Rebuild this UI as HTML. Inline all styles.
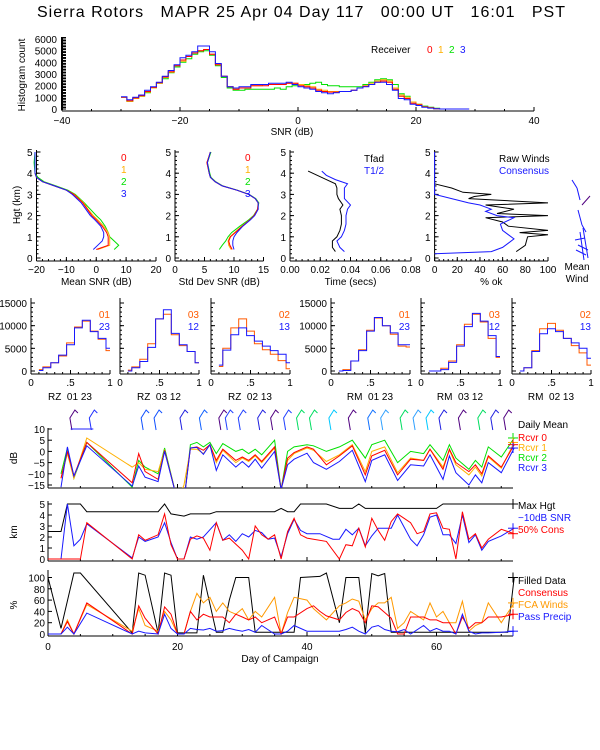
<!DOCTYPE html>
<html><head><meta charset="utf-8">
<style>
html,body{margin:0;padding:0;background:#fff;}
svg{display:block;font-family:"Liberation Sans",sans-serif;}
text{font-size:10px;fill:#000;white-space:pre;}
</style></head>
<body>
<svg id="c" width="600" height="750" viewBox="0 0 600 750">
<text x="37" y="17" textLength="528" lengthAdjust="spacing" style="font-size:16px" xml:space="preserve">Sierra Rotors   MAPR 25 Apr 04 Day 117   00:00 UT   16:01   PST</text>
</svg>
<script>
// ---------- DATA ----------
const snrBinStart = -30;
const snrR0 = [1000,700,950,1150,1500,1850,2250,2750,3200,3700,4200,4500,4800,5000,5100,4700,3800,2800,1900,1700,1800,1800,2000,2000,2000,2100,2100,2100,2200,2200,2000,1900,1800,1600,1500,1450,1450,1500,1500,1600,1800,1950,2100,2300,2400,2300,1700,1100,900,500,350,180,100,30,0,0,0,0,0];
const snrR1 = [1000,650,900,1100,1450,1800,2200,2700,3150,3700,4100,4500,4800,5000,5100,4700,3800,2800,1900,1700,1800,1800,2000,2000,2100,2100,2100,2100,2200,2200,2100,2000,1900,1700,1600,1500,1500,1500,1500,1600,1800,2000,2200,2400,2500,2400,1800,1200,1000,600,400,200,100,30,0,0,0,0,0];
const snrR2 = [1000,650,900,1100,1400,1800,2200,2600,3100,3600,4000,4300,4700,4900,5000,4600,3700,2700,1800,1600,1600,1700,1700,1700,1700,1700,1800,1700,1900,2000,2100,2100,2200,2300,2100,2000,2000,1900,1900,1900,1900,2100,2300,2500,2600,2500,2100,1300,1100,600,400,250,150,60,0,0,0,0,0];
const snrR3 = [1050,800,1000,1200,1600,1900,2300,2800,3300,3800,4400,4600,4900,5400,5400,4900,3900,2800,1900,1800,1900,1900,2100,2100,2100,2200,2200,2200,2300,2100,1900,1800,1700,1500,1400,1300,1400,1500,1500,1600,1800,1900,2100,2300,2300,2100,1600,900,800,400,300,150,80,20,0,0,0,0,0];

const profHgt = [0.4,0.6,0.8,1.0,1.2,1.5,1.8,2.0,2.3,2.6,2.8,3.0,3.2,3.4,3.6,3.8,4.0,4.5,5.0];
const meanSnr0 = [0,4,4,4,3.5,2,0,-1.5,-3,-4.5,-6,-7.5,-10,-14,-18,-20,-20.5,-20.5,-20.5];
const meanSnr1 = [0.5,4.5,4.5,4.5,4,2.5,0.5,-1,-2.8,-4.2,-5.8,-7.3,-10,-14,-18,-20,-20.5,-20.5,-20.5];
const meanSnr2 = [6,7.5,6,4.5,4,3,1.5,0,-2,-4,-5.5,-7,-9.5,-13.5,-17.5,-19.5,-20.5,-20.8,-20.5];
const meanSnr3 = [-1,0.5,2,2.5,2.5,1.5,-0.5,-2,-3.5,-5,-6.5,-8,-10,-14,-18,-20,-20.5,-20.5,-20.5];
const sdSnr0 = [9.7,9.3,9.1,9.4,10.2,11.4,12.7,13.4,14,14.1,13.6,12.5,10.5,8,6.8,6,5.8,5.4,6];
const sdSnr1 = [9.5,9.1,9.0,9.3,10.1,11.3,12.7,13.4,14,14.1,13.6,12.5,10.5,8,6.8,6,5.8,5.4,6];
const sdSnr2 = [7.5,8,8.6,9,9.6,11,12.5,13.3,14,14.2,13.7,12.6,10.6,8.1,6.9,6.1,5.9,5.5,6.1];
const sdSnr3 = [10,9.8,9.8,10,10.5,11.5,12.8,13.5,14.1,14.1,13.6,12.5,10.5,8,6.8,6,5.8,5.5,6];

const timeHgt = [0.3,0.5,0.8,1.0,1.3,1.6,2.0,2.3,2.5,2.8,3.0,3.3,3.5,3.7,3.9,4.1];
const tFad = [0.030,0.028,0.028,0.031,0.033,0.034,0.034,0.033,0.035,0.032,0.031,0.031,0.030,0.024,0.018,0.012];
const tHalf = [0.036,0.033,0.031,0.034,0.036,0.037,0.037,0.038,0.040,0.036,0.036,0.036,0.038,0.030,0.024,0.021];

const rawHgt = [0.3,0.6,1.0,1.1,1.2,1.3,1.5,1.7,1.9,2.0,2.1,2.3,2.5,2.6,2.8,2.9,3.0,3.1,3.3,3.5];
const rawOk = [72,80,82,100,75,100,65,60,45,100,55,70,45,100,30,35,50,25,15,0];
const consHgt = [0.2,0.3,0.5,0.7,0.9,1.1,1.3,1.6,1.9,2.0,2.2,2.3,2.5,2.6,2.8,3.0,3.2,3.6,4.0,5.0];
const consOk = [0,50,60,65,70,65,60,58,70,55,45,50,40,30,15,0,0,0,0,0];

const corrEdges = [0.1,0.15,0.25,0.35,0.45,0.55,0.65,0.75,0.85,0.95,1.0];
const corrLabels = ["RZ  01 23","RZ  03 12","RZ  02 13","RM  01 23","RM  03 12","RM  02 13"];
const corrTagA = ["01","03","02","01","03","02"];
const corrTagB = ["23","12","13","23","12","13"];
const corrA = [
 [300,900,1800,3300,6200,9700,11000,8800,7000,4500],
 [200,900,2600,6000,11500,12500,8000,5600,4300,1800],
 [1000,5000,9500,11500,8800,6000,4700,3700,2300,500],
 [0,300,2200,4700,9000,11700,10000,8100,5500,5300],
 [0,0,600,2200,5800,10300,12500,10800,7200,3000],
 [0,700,4500,9300,10500,9000,7200,5600,4000,1300]];
const corrB = [
 [100,700,1800,3500,5800,9500,11200,8700,7200,5000],
 [0,700,2100,5200,11500,13500,8300,5800,4300,1800],
 [1300,4600,8000,9500,7800,6600,5500,4500,3700,1800],
 [0,100,2200,4500,8800,11800,10000,8400,5800,5800],
 [0,0,300,1900,5500,9800,12700,11000,7800,3200],
 [0,700,4300,8200,9300,8700,7200,6200,5000,2800]];

const dayA = [2,3,4,6,13,14,15,17,18,20,21,22,23,24,25,26,27,29,30,31,32,33,35,36,37,38,40,41,43,45,47,49,50,52,54,56,58,59,61,62,63,65,66,67,68,70,72];
const rcvr0 = [-12,0,-11,4,-14,-1,-9,-12.5,0.5,-22,-22,1.5,2,0.5,3,-4,1,-4,-2.5,-4,-1.5,-4.5,2,-17,-3,-0.5,2,1,-6,-2,2.5,-10.5,-2,0.5,-10.5,-3.5,-4,1,-8,1,-5,-9,-6,-10,-2,-7,3];
const rcvr1 = [-12,-1,-12,6,-7,-5,-8,-9,0.5,-22,-15,1,1,-1,3,-5,0.5,-5,-3,-4.5,-2,-5,1.5,-17,-4,-1,1.5,0.5,-4.5,-1.5,3,-9,0,2,-9.5,-3,-4,1,-7,0.5,-6,-10.5,-7,-11,-2.5,-7.5,4];
const rcvr2 = [-10,1.5,-12,4,-16,-4,-7,-10,1.5,-22,-22,3,4,2,4,-1,3.5,0,1,-1,1,-1.5,5,-17,0,2,3,2.5,0,2,5,-3,3,5,-5,0,-1,3,-4,3,-3,-8,-4,-7,2,-2.5,6];
const rcvr3 = [-16,2,-11,2.5,-15.5,-6.5,-11.5,-13.5,0,-22,-22,1.5,1.8,-1.3,3,-8.5,-1.5,-7,-4.5,-7,-3.5,-7.5,0,-17,-6,-3.5,-0.8,-5,-8,-4.5,0.5,-13.5,-4,-1.5,-13,-6,-6.5,-1.5,-12.5,-2,-9.5,-15,-10.5,-14,-5,-9.5,1.5];

const maxHgtDay = [0,2,2,3,5,6,17,18,19,21,22,25,26,35,36,37,38,39,43,45,47,48,49,60,61,72];
const maxHgtVal = [2.5,2.5,2.5,5,5,4.3,4.3,5,4.1,3.9,4.1,4.1,4.3,4.3,4.6,4.3,4.3,5,5,4.6,4.6,5,4.6,4.6,5,5];
const snr10Day = [0,2,3,4,5,6,13,14,15,17,18,19,20,21,22,23,24,26,27,28,29,30,31,32,33,34,35,36,37,38,39,40,42,44,45,46,47,48,49,50,51,53,54,56,57,58,59,60,61,62,63,64,65,66,67,68,70,72];
const snr10Val = [0,0,5,1.2,1.8,3.2,0.1,2,1.6,2,3.3,1.5,0,0,2,1.8,2,3.3,1.7,2.2,1.6,2.3,2,2.6,2.4,1.8,1.9,0.2,2.3,3.6,2.6,2.3,2.3,1.8,1.8,2.7,2.2,2.8,1.2,2.1,2.8,2.8,4,1.8,1.2,2.2,3.8,4,2.2,2.2,1.4,4,1.5,2.2,0.8,1.6,2.1,2.8];
const cons50Day = [0,5,6,13,14,15,17,18,19,20,21,22,23,24,25,26,27,28,30,31,32,33,34,35,36,37,38,39,40,41,43,45,46,47,48,49,50,51,52,53,54,55,56,57,58,59,60,61,62,63,64,65,66,67,68,70,72];
const cons50Val = [0,0,3.3,0,2.2,1.7,2.2,4.1,1.3,0,0,1.8,2.1,1.9,0.8,3.3,1.7,1.9,0.8,0,3,2.2,1.8,2.2,0,2.5,3.7,2.2,1.9,1.8,1.6,0,1.3,1.2,2.8,1.1,3.7,2.6,1.7,3.4,4.1,3.7,3.3,2.3,2.5,4.1,4.2,2.8,2.7,0,4.3,1.8,2.3,1,1.8,2.7,2.3];

const filledDay = [0,2,4,5,13,14,15,17,18,19,20,23,24,26,27,28,29,31,32,38,39,42,43,45,46,48,49,50,51,52,53,71,72];
const filledVal = [100,10,108,108,2,108,104,2,108,104,2,2,104,3,3,60,100,100,3,3,100,102,108,20,100,100,2,107,103,107,3,3,100];
const pctDay = [0,2,3,4,6,13,14,15,17,18,19,20,21,22,23,24,25,26,27,28,29,30,31,32,33,35,36,37,38,40,41,42,43,45,46,47,48,49,50,51,52,53,54,55,56,58,59,60,61,62,63,64,65,66,67,68,70,72];
const consPct = [0,0,22,0,55,0,50,28,0,48,35,0,0,40,25,35,30,30,30,20,35,30,25,30,20,30,0,30,30,45,50,40,32,25,38,45,40,20,50,48,38,28,0,0,30,30,25,25,20,20,0,30,10,20,20,30,30,35];
const fcaPct = [0,0,25,0,52,5,45,15,5,40,25,0,0,40,72,55,65,40,55,40,35,45,25,40,30,65,0,38,65,60,45,35,25,50,55,62,58,25,45,55,55,65,10,20,40,25,55,30,40,20,20,58,5,15,20,55,20,55];
const precipPct = [0,0,12,0,37,0,5,2,0,35,10,0,0,10,8,7,10,5,6,10,7,5,8,3,15,0,0,5,15,5,5,5,5,5,8,12,5,0,12,15,8,5,4,8,0,15,5,10,5,5,0,35,5,0,2,2,3,5];

const barbDay = [4,7,15,17,21,24,27,28,30,33,35,37,39,41,44,47,50,52,55,57,59,61,64,67,69,71];
const barbColor = ["#500080","#2030ff","#1050ff","#1050ff","#2020e0","#1060ff","#500080","#2040ff","#2040ff","#2020e0","#500080","#2040ff","#00dd60","#00dd60","#00c8ff","#500080","#1070ff","#30a0ff","#00dd60","#30a0ff","#00c8ff","#2020e0","#500080","#00dd60","#2020e0","#500080"];

// ---------- DRAW ----------
const NS = "http://www.w3.org/2000/svg";
const svg = document.getElementById('c');
function el(tag, attrs, parent) {
  const e = document.createElementNS(NS, tag);
  for (const k in attrs) e.setAttribute(k, attrs[k]);
  (parent || svg).appendChild(e);
  return e;
}
function txt(x, y, s, opt, name) {
  const t = el('text', {x: x, y: y});
  t.textContent = s;
  if (opt) { if (opt.anchor) t.setAttribute('text-anchor', opt.anchor); if (opt.fill) t.setAttribute('style', 'fill:' + opt.fill + (opt.size ? ';font-size:' + opt.size + 'px' : '')); else if (opt.size) t.setAttribute('style','font-size:'+opt.size+'px'); if (opt.rot) t.setAttribute('transform', 'rotate(-90 ' + x + ' ' + y + ')'); }
  
  
  return t;
}
function ln(x1, y1, x2, y2, c, name, w) {
  const l = el('line', {x1: x1, y1: y1, x2: x2, y2: y2, stroke: c || '#000', 'stroke-width': w || 1});
  
  
  return l;
}
function poly(pts, c, name, clip) {
  const p = el('polyline', {points: pts.map(p => p[0].toFixed(1) + ',' + p[1].toFixed(1)).join(' '), fill: 'none', stroke: c, 'stroke-width': 1});
  if (clip) p.setAttribute('clip-path', 'url(#' + clip + ')');
  
  
  return p;
}
function lin(d0, d1, p0, p1) { return v => p0 + (v - d0) * (p1 - p0) / (d1 - d0); }
function clipRect(id, x, y, w, h) {
  const cp = el('clipPath', {id: id});
  el('rect', {x: x, y: y, width: w, height: h}, cp);
}

// ---- Top histogram ----
(function () {
  const X = lin(-40, 40, 62, 534), Y = lin(0, 6000, 109, 39);
  ln(62, 111, 534, 111, '#000', 'hist-x-axis');
  ln(62, 37, 62, 111, '#000', 'hist-y-axis');
  el('rect', {x: 61, y: 37, width: 5, height: 73, fill: '#000'});
  for (let v = 0; v <= 6000; v += 250) { ln(63, Y(v), 66, Y(v), '#fff', 'hist-y-minor'); }
  for (let v = 0; v <= 6000; v += 1000) txt(57, Y(v) + 4, String(v), {anchor: 'end'}, 'hist-y-tick');
  [-40, -20, 0, 20, 40].forEach(v => { ln(X(v), 111, X(v), 107, '#000', 'hist-x-tick'); txt(X(v), 124, (v < 0 ? '\u2212' + (-v) : v), {anchor: 'middle'}, 'hist-x-tick-label'); });
  for (let v = -40; v <= 40; v += 5) ln(X(v), 111, X(v), 109, '#000', 'hist-x-minor');
  txt(292, 135, 'SNR (dB)', {anchor: 'middle'}, 'hist-x-title');
  txt(25, 75, 'Histogram count', {anchor: 'middle', rot: 1}, 'hist-y-title');
  const series = [[snrR2, '#00e000', 'hist-rcvr2'], [snrR1, '#ffb000', 'hist-rcvr1'], [snrR0, '#ff0000', 'hist-rcvr0'], [snrR3, '#1818ff', 'hist-rcvr3']];
  series.forEach(s => {
    const pts = [];
    s[0].forEach((v, i) => { const b = snrBinStart + i; pts.push([X(b), Y(v)]); pts.push([X(b + 1), Y(v)]); });
    poly(pts, s[1], s[2]);
  });
  txt(371, 53, 'Receiver', {}, 'legend-receiver');
  txt(427, 53, '0', {fill: '#ff0000'}, 'legend-entry-0');
  txt(438, 53, '1', {fill: '#ffb000'}, 'legend-entry-1');
  txt(449, 53, '2', {fill: '#00e000'}, 'legend-entry-2');
  txt(460, 53, '3', {fill: '#1818ff'}, 'legend-entry-3');
})();

// ---- Profile panels ----
const HY = lin(0, 5, 258, 152);
function profAxes(x0, x1, ticks, fmt, title, name) {
  ln(x0, 150, x0, 261, '#000', name + '-y-axis');
  ln(x0, 261, x1, 261, '#000', name + '-x-axis');
  for (let h = 0; h <= 5; h++) { ln(x0, HY(h), x0 + 4, HY(h), '#000', name + '-y-tick'); txt(x0 - 4, HY(h) + 4, String(h), {anchor: 'end'}, name + '-y-tick-label'); }
  for (let h = 0; h <= 5; h += 0.2) ln(x0, HY(h), x0 + 2, HY(h), '#000', name + '-y-minor');
  const X = lin(ticks[0], ticks[ticks.length - 1], x0, x1);
  ticks.forEach(t => { ln(X(t), 261, X(t), 257, '#000', name + '-x-tick'); txt(X(t), 273, fmt(t), {anchor: 'middle'}, name + '-x-tick-label'); });
  const st = (ticks[1] - ticks[0]) / 5;
  for (let t = ticks[0]; t <= ticks[ticks.length - 1] + 1e-9; t += st) ln(X(t), 261, X(t), 259, '#000', name + '-x-minor');
  txt((x0 + x1) / 2, 285, title, {anchor: 'middle'}, name + '-x-title');
  return X;
}
const neg = t => (t < 0 ? '\u2212' + (-t) : String(t));
txt(20, 205, 'Hgt (km)', {anchor: 'middle', rot: 1}, 'hgt-axis-title');
(function () {
  const X = profAxes(36.5, 156, [-20, -10, 0, 10, 20], neg, 'Mean SNR (dB)', 'mean-snr');
  [[meanSnr2, '#00e000', 'mean-snr-2'], [meanSnr1, '#ffb000', 'mean-snr-1'], [meanSnr0, '#ff0000', 'mean-snr-0'], [meanSnr3, '#1818ff', 'mean-snr-3']].forEach(s => poly(profHgt.map((h, i) => [X(s[0][i]), HY(h)]), s[1], s[2]));
  ['0', '1', '2', '3'].forEach((k, i) => txt(121, 161 + i * 12, k, {fill: ['#ff0000', '#ffb000', '#00e000', '#1818ff'][i]}, 'mean-snr-legend-' + k));
})();
(function () {
  const X = profAxes(175, 263.5, [0, 5, 10, 15], String, 'Std Dev SNR (dB)', 'sd-snr');
  [[sdSnr2, '#00e000', 'sd-snr-2'], [sdSnr1, '#ffb000', 'sd-snr-1'], [sdSnr0, '#ff0000', 'sd-snr-0'], [sdSnr3, '#1818ff', 'sd-snr-3']].forEach(s => poly(profHgt.map((h, i) => [X(s[0][i]), HY(h)]), s[1], s[2]));
  ['0', '1', '2', '3'].forEach((k, i) => txt(245, 161 + i * 12, k, {fill: ['#ff0000', '#ffb000', '#00e000', '#1818ff'][i]}, 'sd-snr-legend-' + k));
})();
(function () {
  const X = profAxes(290, 411, [0, 0.02, 0.04, 0.06, 0.08], t => t.toFixed(2), 'Time (secs)', 'time');
  poly(timeHgt.map((h, i) => [X(tFad[i]), HY(h)]), '#000', 'tfad-line');
  poly(timeHgt.map((h, i) => [X(tHalf[i]), HY(h)]), '#1818ff', 't-half-line');
  txt(364, 162, 'Tfad', {}, 'tfad-legend');
  txt(364, 174, 'T1/2', {fill: '#1818ff'}, 't-half-legend');
})();
(function () {
  const X = profAxes(434.6, 548, [0, 20, 40, 60, 80, 100], String, '% ok', 'pct-ok');
  poly(rawHgt.map((h, i) => [X(rawOk[i]), HY(h)]), '#000', 'raw-winds-line');
  poly(consHgt.map((h, i) => [X(consOk[i]), HY(h)]), '#1818ff', 'consensus-ok-line');
  txt(499, 162, 'Raw Winds', {}, 'raw-winds-legend');
  txt(499, 174, 'Consensus', {fill: '#1818ff'}, 'consensus-legend');
  const mw = [[572,180,577,188,'#1818ff'],[577,188,580,200,'#1818ff'],[582,205,590,196,'#500080'],[578,210,582,225,'#1818ff'],[582,225,586,232,'#1818ff'],[575,240,585,238,'#1818ff'],[578,245,588,250,'#1818ff'],[576,250,586,255,'#1818ff'],[580,232,584,260,'#1818ff'],[583,228,588,258,'#1818ff']];
  mw.forEach(m => ln(m[0], m[1], m[2], m[3], m[4], 'mean-wind-barb'));
  txt(577, 270, 'Mean', {anchor: 'middle'}, 'mean-wind-label');
  txt(577, 282, 'Wind', {anchor: 'middle'}, 'mean-wind-label');
})();

// ---- Correlation histograms ----
(function () {
  const x0s = [31, 120, 211, 331, 421, 512];
  const Y = lin(0, 15000, 371, 303);
  x0s.forEach((x0, p) => {
    const X = lin(0, 1, x0, x0 + 79);
    const nm = 'corr-' + (p + 1);
    ln(x0, 298, x0, 374, '#000', nm + '-y-axis');
    ln(x0, 374, x0 + 79, 374, '#000', nm + '-x-axis');
    for (let v = 0; v <= 15000; v += 5000) { ln(x0, Y(v), x0 + 4, Y(v), '#000', nm + '-y-tick'); if (p === 0 || p === 3) txt(x0 - 4, Y(v) + 4, String(v), {anchor: 'end'}, nm + '-y-tick-label'); }
    for (let v = 0; v <= 15000; v += 1000) ln(x0, Y(v), x0 + 2, Y(v), '#000', nm + '-y-minor');
    [[0, '0'], [0.5, '.5'], [1, '1']].forEach(t => { ln(X(t[0]), 374, X(t[0]), 370, '#000', nm + '-x-tick'); txt(X(t[0]), 386, t[1], {anchor: 'middle'}, nm + '-x-tick-label'); });
    for (let t = 0; t <= 1.0001; t += 0.1) ln(X(t), 374, X(t), 372, '#000', nm + '-x-minor');
    txt(x0 + 39, 400, corrLabels[p], {anchor: 'middle'}, nm + '-title');
    [[corrA[p], '#ff5a00', nm + '-pair-a'], [corrB[p], '#1818ff', nm + '-pair-b']].forEach(s => {
      const pts = [];
      s[0].forEach((v, i) => { pts.push([X(corrEdges[i]), Y(v)]); pts.push([X(corrEdges[i + 1]), Y(v)]); });
      poly(pts, s[1], s[2]);
    });
    txt(x0 + 79, 318, corrTagA[p], {anchor: 'end', fill: '#ff5a00'}, nm + '-legend-a');
    txt(x0 + 79, 330, corrTagB[p], {anchor: 'end', fill: '#1818ff'}, nm + '-legend-b');
  });
})();

// ---- Time series ----
const DX = lin(0, 20, 48, 177.5);
function tsAxes(ytop, ybot, vals, Y, name, title, ty) {
  ln(48, ytop, 48, ybot, '#000', name + '-y-axis');
  ln(48, ybot, 513, ybot, '#000', name + '-x-axis');
  vals.forEach(v => { ln(48, Y(v), 52, Y(v), '#000', name + '-y-tick'); txt(45, Y(v) + 4, neg(v), {anchor: 'end'}, name + '-y-tick-label'); });
  [0, 20, 40, 60].forEach(d => ln(DX(d), ybot, DX(d), ybot - 4, '#000', name + '-x-tick'));
  for (let d = 0; d <= 71; d += 5) ln(DX(d), ybot, DX(d), ybot - 2, '#000', name + '-x-minor');
  txt(17, ty, title, {anchor: 'middle', rot: 1}, name + '-y-title');
}
function endCross(x, y, c, name) { ln(x - 5, y, x + 5, y, c, name); ln(x, y - 5, x, y + 5, c, name); }
(function () {
  const Y = lin(-15, 10, 485, 429);
  tsAxes(428, 488, [10, 5, 0, -5, -10, -15], Y, 'daily-snr', 'dB', 458);
  clipRect('clipA', 48, 420, 470, 68);
  [[rcvr2, '#00e000', 'rcvr2-line'], [rcvr1, '#ffb000', 'rcvr1-line'], [rcvr0, '#ff0000', 'rcvr0-line'], [rcvr3, '#1818ff', 'rcvr3-line']].forEach(s => {
    poly(dayA.map((d, i) => [DX(d), Y(s[0][i])]), s[1], s[2], 'clipA');
    endCross(513, Y(s[0][s[0].length - 1]), s[1], s[2] + '-end');
  });
  barbDay.forEach((d, i) => {
    const x = DX(d), c = barbColor[i];
    const b = el('polyline', {points: (x - 2) + ',' + 430 + ' ' + (x - 4) + ',' + 418 + ' ' + (x + 1) + ',' + 410 + ' ' + (x + 4) + ',' + 413, fill: 'none', stroke: c});
    
    
  });
  ln(DX(3.5), 429, DX(7), 429, '#2020ff', 'wind-barb');
  txt(518, 428, 'Daily Mean', {}, 'legend-daily-mean');
  txt(518, 441, 'Rcvr 0', {fill: '#ff0000'}, 'legend-rcvr0');
  txt(518, 451, 'Rcvr 1', {fill: '#ffb000'}, 'legend-rcvr1');
  txt(518, 461, 'Rcvr 2', {fill: '#00e000'}, 'legend-rcvr2');
  txt(518, 471, 'Rcvr 3', {fill: '#1818ff'}, 'legend-rcvr3');
})();
(function () {
  const Y = lin(0, 5, 559, 504);
  tsAxes(501, 561, [5, 4, 3, 2, 1, 0], Y, 'height', 'km', 532);
  poly(maxHgtDay.map((d, i) => [DX(d), Y(maxHgtVal[i])]), '#000', 'max-hgt-line');
  poly(snr10Day.map((d, i) => [DX(d), Y(snr10Val[i])]), '#1818ff', 'snr10-line');
  poly(cons50Day.map((d, i) => [DX(d), Y(cons50Val[i])]), '#ff0000', 'cons50-line');
  endCross(513, Y(maxHgtVal[maxHgtVal.length - 1]), '#000', 'max-hgt-end');
  endCross(513, Y(snr10Val[snr10Val.length - 1]), '#1818ff', 'snr10-end');
  endCross(513, Y(cons50Val[cons50Val.length - 1]), '#ff0000', 'cons50-end');
  txt(518, 509, 'Max Hgt', {}, 'legend-max-hgt');
  txt(518, 521, '\u221210dB SNR', {fill: '#1818ff'}, 'legend-snr10');
  txt(518, 533, '50% Cons', {fill: '#ff0000'}, 'legend-cons50');
})();
(function () {
  const Y = lin(0, 100, 634, 577.5);
  tsAxes(570, 636, [100, 80, 60, 40, 20, 0], Y, 'percent', '%', 605);
  [[filledDay, filledVal, '#000', 'filled-data-line'], [pctDay, fcaPct, '#ff9900', 'fca-winds-line'], [pctDay, consPct, '#ff0000', 'consensus-pct-line'], [pctDay, precipPct, '#1818ff', 'pass-precip-line']].forEach(s => {
    poly(s[0].map((d, i) => [DX(d), Y(s[1][i])]), s[2], s[3]);
    endCross(513, Y(s[1][s[1].length - 1]), s[2], s[3] + '-end');
  });
  [0, 20, 40, 60].forEach(d => txt(DX(d), 650, String(d), {anchor: 'middle'}, 'day-tick-label'));
  txt(280, 662, 'Day of Campaign', {anchor: 'middle'}, 'day-axis-title');
  txt(518, 584, 'Filled Data', {}, 'legend-filled');
  txt(518, 596, 'Consensus', {fill: '#ff0000'}, 'legend-consensus');
  txt(518, 608, 'FCA Winds', {fill: '#ff9900'}, 'legend-fca');
  txt(518, 620, 'Pass Precip', {fill: '#1818ff'}, 'legend-precip');
})();
</script>
</body></html>
